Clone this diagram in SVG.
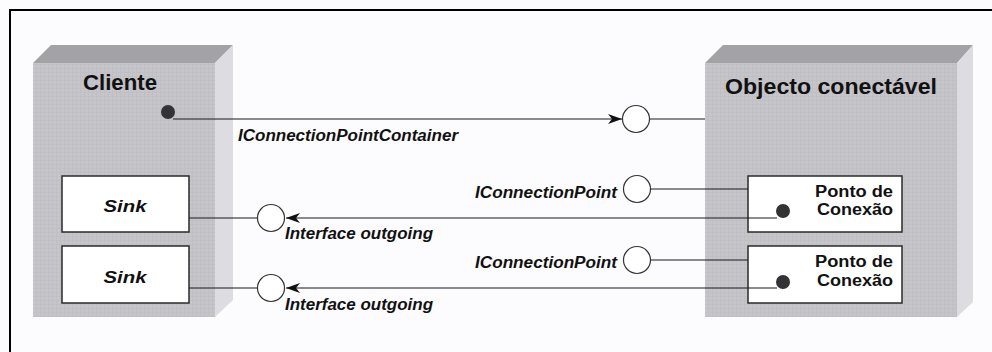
<svg xmlns="http://www.w3.org/2000/svg" width="992" height="352" viewBox="0 0 992 352">
<style>
.front{fill:url(#grid);}
.top{fill:#a3a2a7;}
.side{fill:#dddce0;}
.box{fill:#ffffff;stroke:#2a2a2a;stroke-width:1.5;}
.ln{stroke:#1a1a1a;stroke-width:1.2;fill:none;}
.lol{fill:#ffffff;stroke:#333;stroke-width:1.2;}
.dot{fill:#333336;}
.t{font-family:"Liberation Sans",Arial,sans-serif;fill:#111;}
.title{font-weight:bold;font-size:22px;}
.lbl{font-weight:bold;font-style:italic;font-size:16px;}
.sink{font-style:italic;font-weight:bold;font-size:17px;}
.pt{font-weight:bold;font-size:16px;}
</style>
<defs>
<pattern id="grid" width="4" height="4" patternUnits="userSpaceOnUse">
<rect width="4" height="4" fill="#c6c5ca"/>
<path d="M0 0.5H4M0.5 0V4" stroke="#c0bfc4" stroke-width="1"/>
</pattern>
<marker id="arr" viewBox="0 0 14 10" refX="14" refY="5" markerWidth="14" markerHeight="10" markerUnits="userSpaceOnUse" orient="auto">
<path d="M0,0 L14,5 L0,10 L4,5 z" fill="#111"/>
</marker>
</defs>
<rect width="992" height="352" fill="#fcfbfd"/>
<path d="M10,352 V10 H992" fill="none" stroke="#000" stroke-width="2"/>

<g id="cliente">
<polygon class="top" points="33,63 51,45 233,45 215,63"/>
<polygon class="side" points="215,63 233,45 233,300 215,317"/>
<rect class="front" x="33" y="63" width="182" height="254"/>
<text class="t title" x="83" y="90" textLength="74" lengthAdjust="spacingAndGlyphs">Cliente</text>
<circle class="dot" cx="168" cy="112" r="7"/>
</g>

<g id="sink1">
<rect class="box" x="62" y="176" width="127" height="56"/>
<text class="t sink" x="125" y="212" text-anchor="middle" textLength="43" lengthAdjust="spacingAndGlyphs">Sink</text>
</g>
<g id="sink2">
<rect class="box" x="62" y="246" width="127" height="57"/>
<text class="t sink" x="125" y="283" text-anchor="middle" textLength="43" lengthAdjust="spacingAndGlyphs">Sink</text>
</g>

<g id="objecto">
<polygon class="top" points="705,63 723,45 973,45 957,63"/>
<polygon class="side" points="957,63 973,45 973,302 957,317"/>
<rect class="front" x="705" y="63" width="252" height="254"/>
<text class="t title" x="725" y="94" font-size="23" textLength="212" lengthAdjust="spacingAndGlyphs">Objecto conectável</text>
</g>

<g id="ponto1">
<rect class="box" x="748" y="176" width="154" height="56"/>
<text class="t pt" x="893" y="197" text-anchor="end" textLength="78" lengthAdjust="spacingAndGlyphs">Ponto de</text>
<text class="t pt" x="893" y="215" text-anchor="end" textLength="76" lengthAdjust="spacingAndGlyphs">Conexão</text>
<circle class="dot" cx="783" cy="211" r="7"/>
</g>
<g id="ponto2">
<rect class="box" x="748" y="246" width="154" height="57"/>
<text class="t pt" x="893" y="267" text-anchor="end" textLength="78" lengthAdjust="spacingAndGlyphs">Ponto de</text>
<text class="t pt" x="893" y="286" text-anchor="end" textLength="76" lengthAdjust="spacingAndGlyphs">Conexão</text>
<circle class="dot" cx="783" cy="282" r="7"/>
</g>

<g id="connectors">
<line class="ln" x1="173" y1="119" x2="622" y2="119" marker-end="url(#arr)"/>
<line class="ln" x1="650" y1="119" x2="705" y2="119"/>
<line class="ln" x1="651" y1="189" x2="748" y2="189"/>
<line class="ln" x1="651" y1="260" x2="748" y2="260"/>
<line class="ln" x1="777" y1="218" x2="286" y2="218" marker-end="url(#arr)"/>
<line class="ln" x1="189" y1="218" x2="257" y2="218"/>
<line class="ln" x1="777" y1="288" x2="286" y2="288" marker-end="url(#arr)"/>
<line class="ln" x1="189" y1="288" x2="257" y2="288"/>
</g>

<g id="interfaces">
<circle class="lol" cx="636" cy="119" r="13.5"/>
<circle class="lol" cx="637" cy="189" r="13.5"/>
<circle class="lol" cx="637" cy="260" r="13.5"/>
<circle class="lol" cx="271" cy="218" r="13.5"/>
<circle class="lol" cx="271" cy="288" r="13.5"/>
</g>

<g id="labels">
<text class="t lbl" x="238" y="141" textLength="220" lengthAdjust="spacingAndGlyphs">IConnectionPointContainer</text>
<text class="t lbl" x="475" y="198" textLength="142" lengthAdjust="spacingAndGlyphs">IConnectionPoint</text>
<text class="t lbl" x="475" y="268" textLength="142" lengthAdjust="spacingAndGlyphs">IConnectionPoint</text>
<text class="t lbl" x="285" y="239" textLength="148" lengthAdjust="spacingAndGlyphs">Interface outgoing</text>
<text class="t lbl" x="285" y="310" textLength="148" lengthAdjust="spacingAndGlyphs">Interface outgoing</text>
</g>
</svg>
